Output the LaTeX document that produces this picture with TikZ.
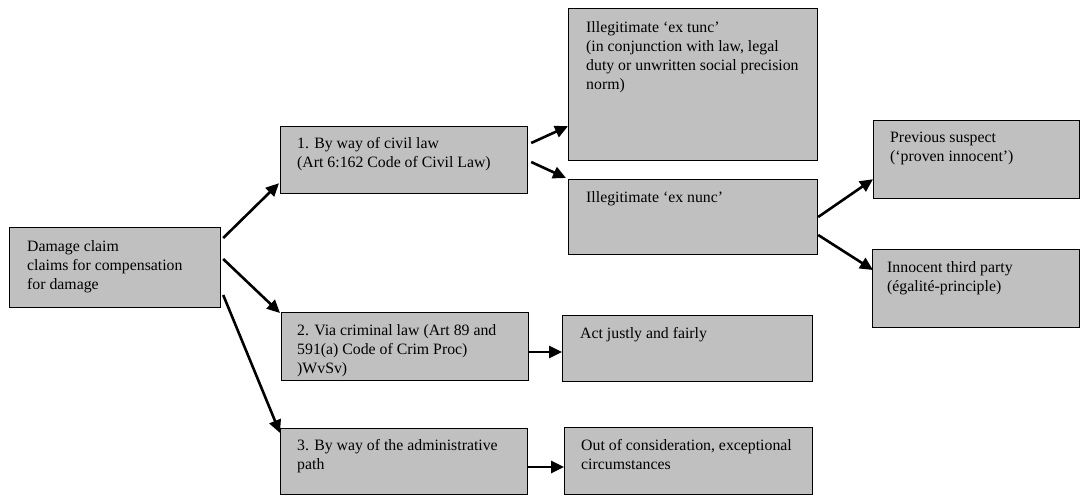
\documentclass[tikz,border=0pt]{standalone}
\usepackage{fontspec}
\setmainfont{Liberation Serif}
\usetikzlibrary{arrows.meta,calc}
\definecolor{boxgrey}{RGB}{192,192,192}
\tikzset{
  box/.style={draw=black, fill=boxgrey, line width=1.2pt, anchor=north west, inner sep=0pt},
  boxtext/.style={anchor=north west, align=left, inner sep=0pt,
    font=\fontsize{15.8}{19}\selectfont},
  link/.style={line width=2.6pt, -{Triangle[length=13pt,width=12pt]}}
}
\begin{document}
\begin{tikzpicture}[x=1pt, y=-1pt]
        \useasboundingbox (0, 0) rectangle (1080, 496);
        % boxes
        \node[box, minimum width=211, minimum height=80] (claim) at (9, 227) {};
        \node[box, minimum width=247, minimum height=67] (civil) at (280, 126) {};
        \node[box, minimum width=247, minimum height=68] (crim) at (281, 312) {};
        \node[box, minimum width=247, minimum height=66] (admin) at (280, 428) {};
        \node[box, minimum width=249, minimum height=152] (extunc) at (568, 8) {};
        \node[box, minimum width=249, minimum height=75] (exnunc) at (568, 179) {};
        \node[box, minimum width=250, minimum height=66] (fair) at (562, 315) {};
        \node[box, minimum width=248, minimum height=67] (except) at (564, 427) {};
        \node[box, minimum width=206, minimum height=78] (suspect) at (873, 120) {};
        \node[box, minimum width=207, minimum height=78] (third) at (872, 249) {};
        % texts
        \node[boxtext] (claimtxt) at ($(claim.north west)+(18, 13)$)
        {Damage claim\\claims for compensation\\for damage};
        \node[boxtext] (civiltxt) at ($(civil.north west)+(17, 11)$)
        {1. By way of civil law\\(Art 6:162 Code of Civil Law)};
        \node[boxtext] (crimtxt) at ($(crim.north west)+(16, 12)$)
        {2. Via criminal law (Art 89 and\\591(a) Code of Crim Proc)\\)WvSv)};
        \node[boxtext] (admintxt) at ($(admin.north west)+(17, 11)$)
        {3. By way of the administrative\\path};
        \node[boxtext] (extunctxt) at ($(extunc.north west)+(18, 13)$)
        {Illegitimate ‘ex tunc’\\(in conjunction with law, legal\\duty or unwritten social precision\\norm)};
        \node[boxtext] (exnunctxt) at ($(exnunc.north west)+(18, 12)$)
        {Illegitimate ‘ex nunc’};
        \node[boxtext] (fairtxt) at ($(fair.north west)+(18, 12)$)
        {Act justly and fairly};
        \node[boxtext] (excepttxt) at ($(except.north west)+(17, 12)$)
        {Out of consideration, exceptional\\circumstances};
        \node[boxtext] (suspecttxt) at ($(suspect.north west)+(17, 12)$)
        {Previous suspect\\(‘proven innocent’)};
        \node[boxtext] (thirdtxt) at ($(third.north west)+(15, 12)$)
        {Innocent third party\\(égalité-principle)};
        % arrows
        \draw[link] ($(claim.north east)+(2, 11)$) -- ($(civil.south west)+(-1, -11)$);
        \draw[link] ($(claim.north east)+(2, 32)$) -- ($(crim.north west)+(-1, 1)$);
        \draw[link] ($(claim.north east)+(2, 68)$) -- ($(admin.north west)+(0, 5)$);
        \draw[link] ($(civil.north east)+(3, 17)$) -- ($(extunc.south west)+(0, -35)$);
        \draw[link] ($(civil.north east)+(3, 36)$) -- ($(exnunc.north west)+(-2, -1)$);
        \draw[link] ($(exnunc.north east)+(0, 38)$) -- ($(suspect.south west)+(0, -20)$);
        \draw[link] ($(exnunc.north east)+(0, 56)$) -- ($(third.north west)+(1, 21)$);
        \draw[link] ($(crim.north east)+(0, 40)$) -- ($(fair.north west)+(0, 37)$);
        \draw[link] ($(admin.north east)+(0, 39)$) -- ($(except.north west)+(0, 40)$);
    \end{tikzpicture}
\end{document}
